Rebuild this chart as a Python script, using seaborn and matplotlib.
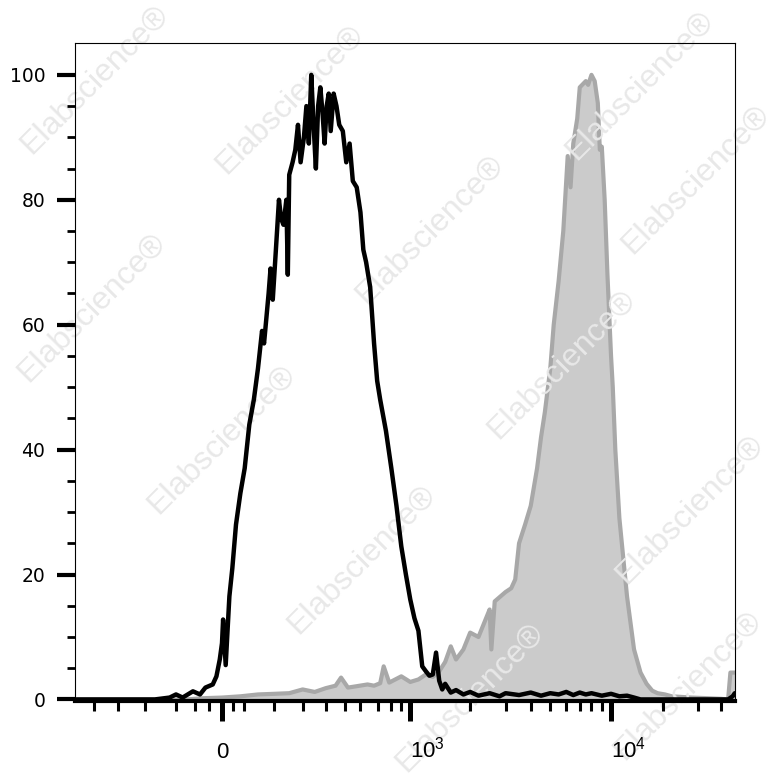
import matplotlib
matplotlib.use("Agg")
import matplotlib.pyplot as plt
from matplotlib.ticker import NullFormatter
import seaborn as sns

# ---------------- data ----------------
# unstained / isotype control histogram (black line)
black_x = [-600, -400, -200, -150, -130, -110, -80, -60, -45, -25, -15, -6, 0, 3, 10, 20, 28, 38,
           50, 62, 75, 88, 100, 112, 118, 125, 132, 138, 145, 155, 165, 172, 180, 190, 195, 200,
           212, 222, 232, 242, 255, 265, 275, 285, 295, 305, 315, 325, 335, 345, 355, 365, 375,
           390, 405, 420, 440, 460, 480, 500, 525, 550, 570, 590, 620, 650, 675, 700, 750, 800,
           850, 900, 950, 1000, 1050, 1100, 1150, 1200, 1250, 1300, 1350, 1400, 1450, 1500, 1600,
           1700, 1850, 2000, 2200, 2500, 2800, 3000, 3500, 4000, 4500, 5000, 5500, 6000, 6500,
           7000, 7500, 8000, 9000, 10000, 11000, 12000, 13000, 14000, 20000, 30000, 38000, 40000,
           41000]
black_y = [0, 0, 0, 0.3, 0.8, 0.3, 1.3, 0.8, 1.9, 2.4, 3.7, 6.4, 9, 12.8, 5.5, 16.5, 21, 28,
           33, 37, 44, 48, 53, 59, 57, 61, 65, 69, 64, 72, 80, 77, 76, 80, 68, 84,
           86, 88, 92, 86, 90, 95, 89, 100, 92, 85, 95, 98, 94, 89, 95, 97, 91,
           97, 95, 92, 91, 86, 89, 83, 82, 78, 72, 70, 66, 57, 51, 48, 43, 37,
           31, 24.5, 20, 16, 13, 11, 5.3, 4.5, 3.8, 4, 7.5, 3, 1.6, 2.5, 1.1,
           1.5, 0.8, 1.2, 0.6, 1.0, 0.5, 1.0, 0.7, 1.1, 0.6, 1.0, 0.8, 1.2, 0.7,
           1.1, 0.8, 1.0, 0.6, 0.9, 0.5, 0.6, 0.3, 0, 0, 0, 0, 0.5,
           1.0]

# stained sample histogram (grey filled)
gray_x = [-600, -100, -50, 0, 50, 100, 150, 200, 250, 300, 350, 400, 430, 470, 520, 600, 650,
          700, 730, 780, 900, 1000, 1100, 1200, 1300, 1400, 1500, 1600, 1700, 1850, 2000, 2200,
          2400, 2500, 2550, 2650, 3000, 3200, 3350, 3500, 3750, 4000, 4300, 4500, 4700, 5000,
          5200, 5500, 5800, 6100, 6300, 6500, 6800, 7000, 7500, 7700, 8000, 8300, 8600, 8800,
          9000, 9300, 9600, 10000, 10200, 10500, 11000, 12000, 13000, 14000, 15000, 16000,
          17000, 18500, 20000, 25000, 30000, 35000, 38000, 39000, 41000]
gray_y = [0, 0, 0.2, 0.3, 0.5, 0.8, 0.9, 1.0, 1.6, 1.2, 1.8, 2.2, 3.5, 1.9, 2.1, 2.4, 2.2,
          2.6, 5.3, 2.7, 3.7, 2.8, 3.2, 4.0, 3.6, 4.5, 6.0, 8.5, 6.4, 8.0, 10.7, 10.0,
          13.0, 14.4, 8.0, 15.7, 17.2, 17.8, 19.2, 25, 28, 31, 37, 42, 46, 53,
          60, 67, 75, 87, 82, 89, 93, 98, 99, 98.4, 100, 99, 95.5, 88,
          88.5, 80, 68, 55, 50, 40, 29, 16.5, 8, 4.3, 2.5, 1.4,
          1.0, 0.8, 0.5, 0.3, 0.2, 0.1, 0, 4.3, 4.3]

# axis ticks
x_major_ticks = [0, 1000, 10000]
x_major_labels = ["0", "$10^3$", "$10^4$"]
x_minor_ticks = [-480, -350, -235, -130, -75, -35, 30, 60, 150, 250, 350, 450, 550, 680, 800,
                 900, 2000, 3000, 4000, 5000, 6000, 7000, 8000, 9000, 18000, 27000, 35000]
y_major_ticks = [0, 20, 40, 60, 80, 100]
y_minor_ticks = [5, 10, 15, 25, 30, 35, 45, 50, 55, 65, 70, 75, 85, 90, 95]

watermark_text = "Elabscience®"
watermark_centers = [(290, 100), (430, 230), (222, 440), (92, 308), (562, 365), (362, 560),
                     (690, 510), (696, 180), (95, 80), (640, 86), (470, 698), (688, 686)]

# ---------------- styling ----------------
sns.set_theme(style="white")
plt.rcParams["font.family"] = ["Liberation Sans", "DejaVu Sans"]
plt.rcParams["mathtext.default"] = "regular"

W, H = 779, 780
fig = plt.figure(figsize=(W / 100, H / 100), dpi=100)
ax = fig.add_axes([75 / W, 1 - 701 / H, 660 / W, 658 / H])
ax.set_axisbelow(False)
ax.set_xscale("asinh", linear_width=237)

# grey filled histogram
ax.fill_between(gray_x, gray_y, 0, color="#cbcbcb", lw=0, zorder=1)
sns.lineplot(x=gray_x, y=gray_y, color="#a8a8a8", lw=3.0, ax=ax, zorder=1.5,
             estimator=None, sort=False)

# watermarks
for (wx, wy) in watermark_centers:
    ax.text(wx / W, 1 - wy / H, watermark_text, transform=fig.transFigure, rotation=45,
            ha="center", va="center", fontsize=23, color="#e8e8e8", zorder=2,
            clip_on=False)

# black control histogram
sns.lineplot(x=black_x, y=black_y, color="black", lw=3.2, ax=ax, zorder=3,
             estimator=None, sort=False)

ax.set_xlim(-611, 41100)
ax.set_ylim(-0.25, 105.1)
ax.set_xlabel("")
ax.set_ylabel("")

# spines
for side in ["left", "top", "right"]:
    ax.spines[side].set_color("black")
    ax.spines[side].set_linewidth(0.8)
ax.spines["bottom"].set_color("black")
ax.spines["bottom"].set_linewidth(3)

# ticks
ax.set_xticks(x_major_ticks)
ax.set_xticklabels(x_major_labels)
ax.set_xticks(x_minor_ticks, minor=True)
ax.xaxis.set_minor_formatter(NullFormatter())
ax.set_yticks(y_major_ticks)
ax.set_yticklabels([str(v) for v in y_major_ticks])
ax.set_yticks(y_minor_ticks, minor=True)

ax.tick_params(axis="x", which="major", direction="out", length=14.5, width=3.6,
               color="black", labelcolor="black", labelsize=16, pad=26.5, bottom=True)
ax.tick_params(axis="x", which="minor", direction="out", length=7, width=2.2,
               color="black", bottom=True)
ax.tick_params(axis="y", which="major", direction="out", length=13, width=3,
               color="black", labelcolor="black", labelsize=13.5, pad=8.5, left=True)
ax.tick_params(axis="y", which="minor", direction="out", length=6, width=2,
               color="black", left=True)

for lbl in ax.get_yticklabels():
    lbl.set_fontfamily(["DejaVu Sans"])
for lbl, txt in zip(ax.get_xticklabels(), x_major_labels):
    lbl.set_va("baseline")
    if txt != "0":
        lbl.set_ha("left")

fig.savefig("out.png", dpi=100)
